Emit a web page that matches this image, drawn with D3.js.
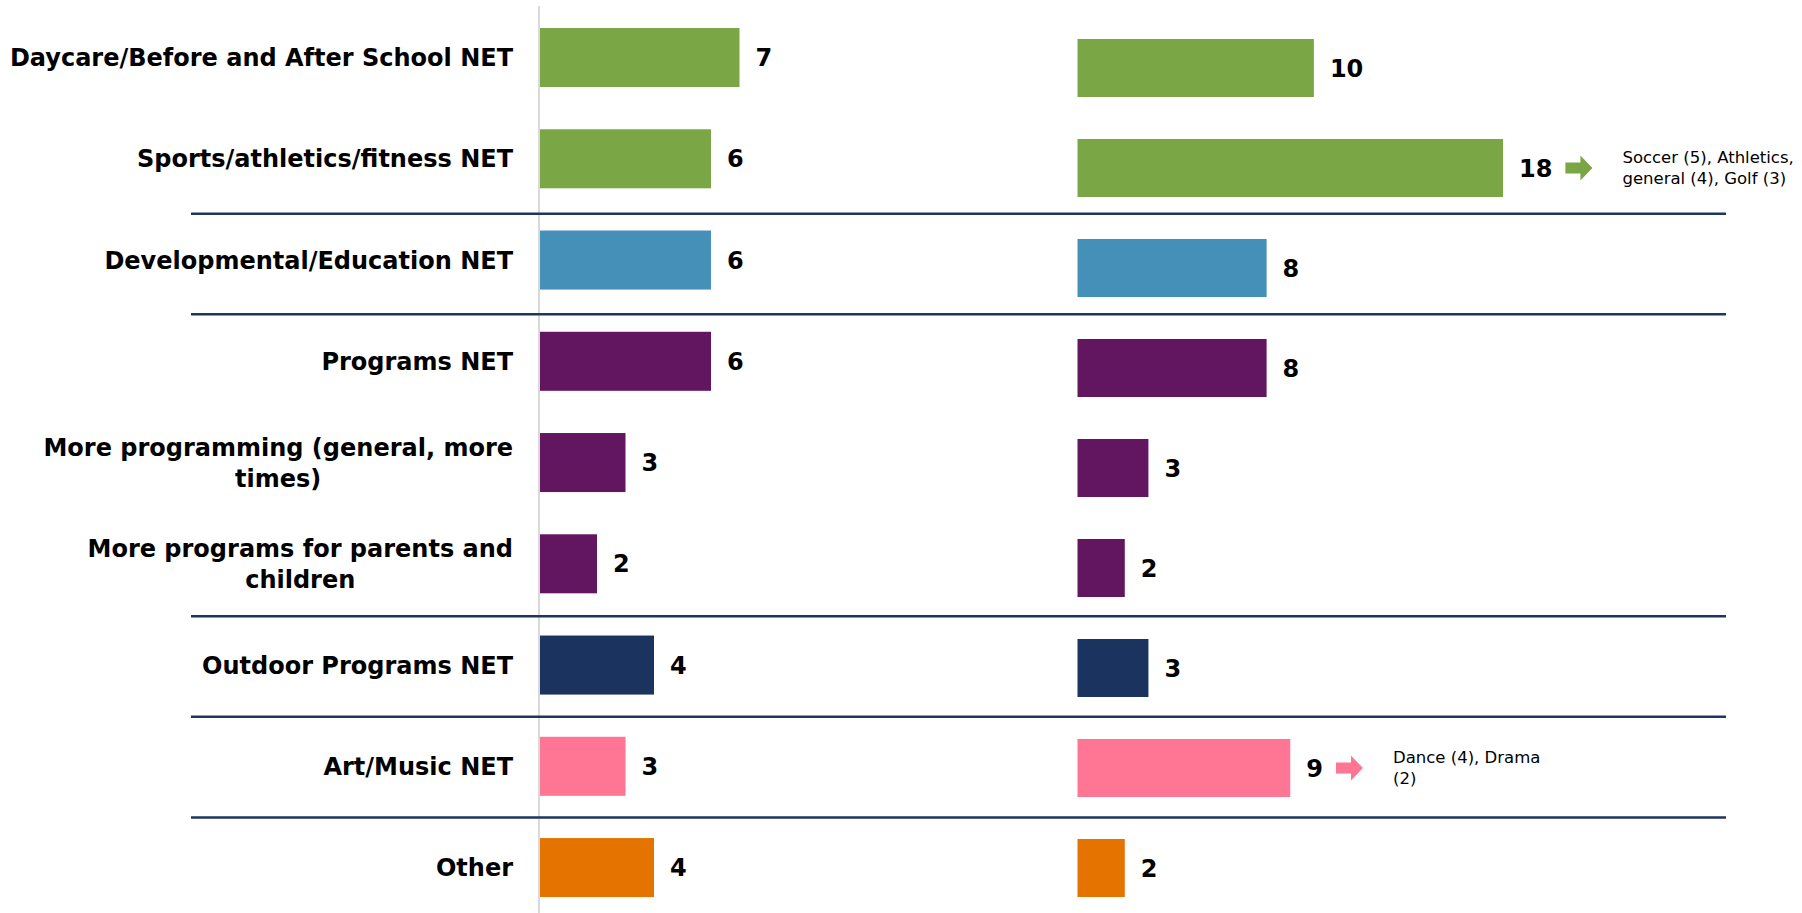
<!DOCTYPE html>
<html>
<head>
<meta charset="utf-8">
<script src="https://cdn.jsdelivr.net/npm/d3@7"></script>
<style>
  body { margin: 0; background: #fff; }
  text { font-family: "DejaVu Sans", Verdana, sans-serif; }
</style>
</head>
<body>
<div id="chart"></div>
<script>
'use strict';

// rows, top to bottom
const categories = [
  'Daycare/Before and After School NET',
  'Sports/athletics/fitness NET',
  'Developmental/Education NET',
  'Programs NET',
  'More programming (general, more times)',
  'More programs for parents and children',
  'Outdoor Programs NET',
  'Art/Music NET',
  'Other'
];
// how each category label breaks into lines
const categoryLines = [
  ['Daycare/Before and After School NET'],
  ['Sports/athletics/fitness NET'],
  ['Developmental/Education NET'],
  ['Programs NET'],
  ['More programming (general, more', 'times)'],
  ['More programs for parents and', 'children'],
  ['Outdoor Programs NET'],
  ['Art/Music NET'],
  ['Other']
];
const leftValues = [7, 6, 6, 6, 3, 2, 4, 3, 4];
const rightValues = [10, 18, 8, 8, 3, 2, 3, 9, 2];
const rowColors = ['#7ba646', '#7ba646', '#4590b9', '#621660', '#621660', '#621660', '#1b335f', '#ff7694', '#e57300'];
// a divider line is drawn below these rows
const dividersAfter = [1, 2, 5, 6, 7];
// call-outs beside some of the right-hand bars
const notes = [
  { row: 1, lines: ['Soccer (5), Athletics,', 'general (4), Golf (3)'] },
  { row: 7, lines: ['Dance (4), Drama', '(2)'] }
];

const width = 1802;
const height = 913;

const $svg = d3.select('#chart').append('svg')
  .attr('width', width)
  .attr('height', height);

const xLeft = d3.scaleLinear().domain([0, 20]).range([540, 540 + 20 * 28.5]);
const xRight = d3.scaleLinear().domain([0, 18]).range([1077.5, 1503]);

const yLeft = d3.scaleBand().domain(categories).range([-14.2, 939.3]).padding(0.417);
const yRight = d3.scaleBand().domain(categories).range([-3, 939]).padding(0.42);

// thin grey baseline of the left bars
$svg.append('line')
  .attr('x1', 539).attr('x2', 539)
  .attr('y1', 6).attr('y2', height)
  .attr('stroke', '#d9d9d9')
  .attr('stroke-width', 2);

// dividers between the groups
const midBelow = (scale, i) => (scale(categories[i]) + scale.bandwidth() + scale(categories[i + 1])) / 2;
$svg.append('g').selectAll('line')
  .data(dividersAfter)
  .enter()
  .append('line')
  .attr('x1', 191).attr('x2', 1726)
  .attr('y1', (i) => (midBelow(yLeft, i) + midBelow(yRight, i)) / 2)
  .attr('y2', (i) => (midBelow(yLeft, i) + midBelow(yRight, i)) / 2)
  .attr('stroke', '#1f3561')
  .attr('stroke-width', 2.5);

// category labels: block right-aligned, lines centred in the block
const $labels = $svg.append('g').selectAll('text')
  .data(categories)
  .enter()
  .append('text')
  .attr('font-size', 24)
  .attr('font-weight', 'bold')
  .attr('fill', '#000')
  .attr('text-anchor', 'middle');

$labels.each(function (d, i) {
  const $t = d3.select(this);
  const lines = categoryLines[i];
  const cy = yLeft(d) + yLeft.bandwidth() / 2;
  const lh = 31;
  const first = cy - (lines.length - 1) * lh / 2;
  lines.forEach((line, k) => {
    $t.append('tspan')
      .attr('y', first + k * lh)
      .attr('dy', '0.36em')
      .text(line);
  });
  let w = 0;
  $t.selectAll('tspan').each(function () { w = Math.max(w, this.getComputedTextLength()); });
  $t.selectAll('tspan').attr('x', 513 - w / 2);
});

const drawSide = (values, x, y) => {
  const $g = $svg.append('g');
  $g.selectAll('rect')
    .data(categories)
    .enter()
    .append('rect')
    .attr('x', x(0))
    .attr('y', (d) => y(d))
    .attr('width', (d, i) => x(values[i]) - x(0))
    .attr('height', y.bandwidth())
    .attr('fill', (d, i) => rowColors[i]);
  return $g.selectAll('text.value')
    .data(categories)
    .enter()
    .append('text')
    .attr('class', 'value')
    .attr('x', (d, i) => x(values[i]) + 16)
    .attr('y', (d) => y(d) + y.bandwidth() / 2)
    .attr('dy', '0.36em')
    .attr('font-size', 24)
    .attr('font-weight', 'bold')
    .attr('fill', '#000')
    .text((d, i) => values[i]);
};

drawSide(leftValues, xLeft, yLeft);
const $rightValues = drawSide(rightValues, xRight, yRight);

// arrows + call-out text
notes.forEach((n) => {
  const node = $rightValues.nodes()[n.row];
  const box = node.getBBox();
  const x0 = box.x + box.width + 13;
  const cy = yRight(categories[n.row]) + yRight.bandwidth() / 2;
  const p = d3.path();
  p.moveTo(x0, cy - 5.5);
  p.lineTo(x0 + 15, cy - 5.5);
  p.lineTo(x0 + 15, cy - 12.5);
  p.lineTo(x0 + 27, cy);
  p.lineTo(x0 + 15, cy + 12.5);
  p.lineTo(x0 + 15, cy + 5.5);
  p.lineTo(x0, cy + 5.5);
  p.closePath();
  $svg.append('path')
    .attr('d', p.toString())
    .attr('fill', rowColors[n.row]);

  const $t = $svg.append('text')
    .attr('font-size', 16.5)
    .attr('fill', '#000');
  n.lines.forEach((line, k) => {
    $t.append('tspan')
      .attr('x', x0 + 57)
      .attr('y', cy - 5 + k * 21)
      .text(line);
  });
});
</script>
</body>
</html>
